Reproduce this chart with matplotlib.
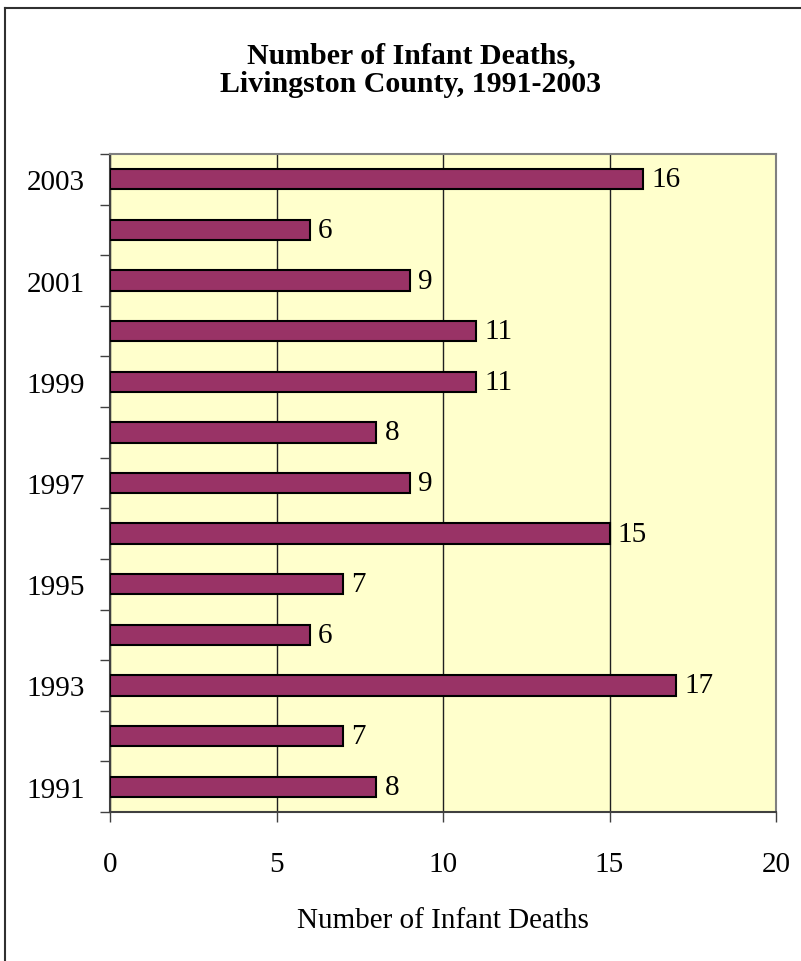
import matplotlib.pyplot as plt
from matplotlib.lines import Line2D

years = [1991, 1992, 1993, 1994, 1995, 1996, 1997, 1998, 1999, 2000, 2001, 2002, 2003]
deaths = [8, 7, 17, 6, 7, 15, 9, 8, 11, 11, 9, 6, 16]
year_labels = [str(y) if y % 2 == 1 else '' for y in years]
x_ticks = [0, 5, 10, 15, 20]

plt.rcParams['font.family'] = ['Liberation Serif', 'DejaVu Serif']

fig = plt.figure(figsize=(8.01, 9.62), dpi=100)
ax = fig.add_axes([110 / 801, 1 - 813 / 962, 666 / 801, 658 / 962])
ax.set_facecolor('#FFFFCC')

pos = list(range(len(years)))
ax.barh(pos, deaths, height=0.4, color='#993366', edgecolor='black', linewidth=1.5, zorder=3)

# value labels right of bars
for p, v in zip(pos, deaths):
    ax.annotate(str(v), (v, p), xytext=(6, 0), textcoords='offset points',
                va='center', ha='left', fontsize=21)

ax.set_xlim(0, 20)
ax.set_ylim(-0.5, len(years) - 0.5)
ax.set_xticks(x_ticks)
ax.set_xticklabels([str(t) for t in x_ticks], fontsize=21)
ax.tick_params(axis='x', direction='out', length=7, width=1, color='#404040', pad=21)

# y ticks at category boundaries, labels at centres
ax.set_yticks([p - 0.5 for p in pos] + [len(years) - 0.5])
ax.set_yticklabels([])
ax.set_yticks(pos, minor=True)
ax.set_yticklabels(year_labels, minor=True, fontsize=21)
ax.tick_params(axis='y', which='major', direction='out', length=7, width=1, color='#404040')
ax.tick_params(axis='y', which='minor', length=0, pad=18)

ax.xaxis.grid(True, color='#202020', linewidth=1, zorder=1)
ax.set_axisbelow(True)

ax.spines['left'].set_color('#404040')
ax.spines['bottom'].set_color('#404040')
ax.spines['top'].set_color('#808080')
ax.spines['right'].set_color('#808080')
for s in ax.spines.values():
    s.set_linewidth(1.5)

ax.set_xlabel('Number of Infant Deaths', fontsize=21, labelpad=22)

fig.text(411 / 801, 1 - 70 / 962, 'Number of Infant Deaths,\nLivingston County, 1991-2003',
         ha='center', va='center', fontsize=21.5, fontweight='bold', linespacing=1.1)

# outer frame (top and left edges visible)
fig.add_artist(Line2D([5 / 801, 1], [1 - 9 / 962, 1 - 9 / 962], color='#303030', linewidth=1.5,
                      transform=fig.transFigure))
fig.add_artist(Line2D([5 / 801, 5 / 801], [0, 1 - 9 / 962], color='#303030', linewidth=1.5,
                      transform=fig.transFigure))

fig.savefig('out.png', dpi=100)
